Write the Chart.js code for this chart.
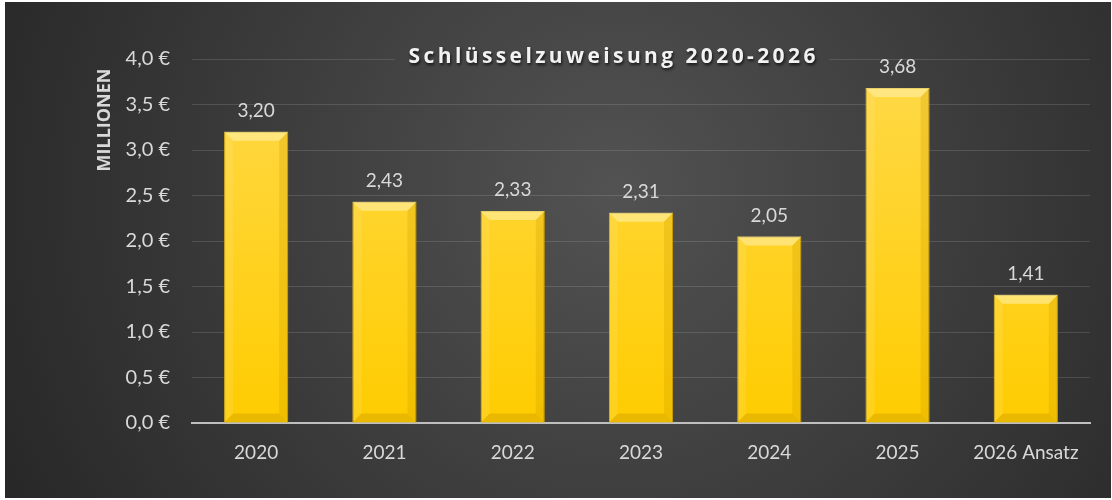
<!DOCTYPE html>
<html lang="de">
<head>
<meta charset="utf-8">
<title>Schlüsselzuweisung 2020-2026</title>
<script src="https://cdn.jsdelivr.net/npm/chart.js@4.4.0/dist/chart.umd.min.js"></script>
<style>
    html, body { margin: 0; padding: 0; background: #ffffff; }
    #wrap { position: absolute; left: 5px; top: 2px; width: 1106px; height: 496px; }
</style>
</head>
<body>
<div id="wrap"><canvas id="keyChart"></canvas></div>
<script>
// Chart data
const years = ["2020", "2021", "2022", "2023", "2024", "2025", "2026 Ansatz"];
const amounts = [3.20, 2.43, 2.33, 2.31, 2.05, 3.68, 1.41]; // Mio. €
const yTicks = [0, 0.5, 1, 1.5, 2, 2.5, 3, 3.5, 4];
const chartTitle = "Schlüsselzuweisung 2020-2026";
const unitLabel = "MILLIONEN";

// Colors
const textColor = "#d9d9d9";
const gridColor = "rgba(255, 255, 255, 0.13)";
const axisColor = "#bfbfbf";
const fontFamily = "Lato, 'Open Sans', sans-serif";
const titleFamily = "'Open Sans', Lato, sans-serif";

// Background gradient (same one is reused to mask the grid behind the title)
function backgroundGradient(ctx, w, h) {
    const g = ctx.createRadialGradient(w * 0.55, h * 0.38, 0, w * 0.55, h * 0.38, w * 0.62);
    g.addColorStop(0, "#525252");
    g.addColorStop(1, "#272727");
    return g;
}

function barGradient(context) {
    const area = context.chart.chartArea;
    if (!area) return "#ffd21f";
    const g = context.chart.ctx.createLinearGradient(0, area.top, 0, area.bottom);
    g.addColorStop(0, "#ffd94a");
    g.addColorStop(1, "#ffcc00");
    return g;
}

function fillPoly(ctx, pts, color) {
    ctx.beginPath();
    ctx.moveTo(pts[0][0], pts[0][1]);
    for (let i = 1; i < pts.length; i++) ctx.lineTo(pts[i][0], pts[i][1]);
    ctx.closePath();
    ctx.fillStyle = color;
    ctx.fill();
}

const backgroundPlugin = {
    id: "panelBackground",
    beforeDraw(chart) {
        const ctx = chart.ctx;
        ctx.save();
        ctx.fillStyle = backgroundGradient(ctx, chart.width, chart.height);
        ctx.fillRect(0, 0, chart.width, chart.height);
        ctx.restore();
    }
};

// Bevel edges and value labels on top of the bars
const barDecorPlugin = {
    id: "barDecor",
    afterDatasetsDraw(chart) {
        const ctx = chart.ctx;
        const meta = chart.getDatasetMeta(0);
        ctx.save();
        meta.data.forEach((bar, i) => {
            const l = bar.x - bar.width / 2;
            const r = bar.x + bar.width / 2;
            const t = bar.y;
            const b = bar.base;
            const d = Math.min(9, (b - t) / 2);
            fillPoly(ctx, [[l, t], [r, t], [r - d, t + d], [l + d, t + d]], "rgba(255, 240, 170, 0.6)");
            fillPoly(ctx, [[l, t], [l + d, t + d], [l + d, b - d], [l, b]], "rgba(255, 232, 140, 0.2)");
            fillPoly(ctx, [[r, t], [r, b], [r - d, b - d], [r - d, t + d]], "rgba(200, 150, 0, 0.25)");
            fillPoly(ctx, [[l, b], [l + d, b - d], [r - d, b - d], [r, b]], "rgba(190, 140, 0, 0.3)");

            ctx.fillStyle = textColor;
            ctx.font = "19px " + fontFamily;
            ctx.textAlign = "center";
            ctx.textBaseline = "middle";
            ctx.fillText(amounts[i].toFixed(2).replace(".", ","), bar.x, t - 21);
        });
        ctx.restore();
    }
};

// Letter-spaced title over the top grid line, plus the unit label
const titlePlugin = {
    id: "spacedTitle",
    afterDraw(chart) {
        const ctx = chart.ctx;
        const cx = 607;
        const cy = 55;
        ctx.save();
        ctx.font = "bold 21px " + titleFamily;
        ctx.letterSpacing = "3.4px";
        const w = ctx.measureText(chartTitle).width;
        ctx.fillStyle = backgroundGradient(ctx, chart.width, chart.height);
        ctx.fillRect(cx - w / 2 - 12, cy - 15, w + 24, 30);
        ctx.textAlign = "center";
        ctx.textBaseline = "middle";
        ctx.shadowColor = "rgba(0, 0, 0, 0.7)";
        ctx.shadowOffsetX = 1;
        ctx.shadowOffsetY = 2;
        ctx.shadowBlur = 3;
        ctx.fillStyle = "#f2f2f2";
        ctx.fillText(chartTitle, cx + 1.7, cy);
        ctx.restore();

        // "MILLIONEN" display unit label, rotated
        ctx.save();
        ctx.translate(100, 118);
        ctx.rotate(-Math.PI / 2);
        ctx.font = "bold 18px " + titleFamily;
        ctx.fillStyle = textColor;
        ctx.textAlign = "center";
        ctx.textBaseline = "middle";
        ctx.fillText(unitLabel, 0, 0);
        ctx.restore();
    }
};

const ctx = document.getElementById("keyChart").getContext("2d");
const keyChart = new Chart(ctx, {
    type: "bar",
    data: {
        labels: years,
        datasets: [{
            data: amounts,
            backgroundColor: barGradient,
            borderColor: "#c9a000",
            borderWidth: 1,
            barPercentage: 0.5,
            categoryPercentage: 1.0
        }]
    },
    options: {
        responsive: true,
        maintainAspectRatio: false,
        animation: false,
        layout: {
            padding: { top: 57, right: 21, left: 0, bottom: 0 }
        },
        plugins: {
            legend: { display: false },
            tooltip: { enabled: false }
        },
        scales: {
            x: {
                grid: { display: false, drawTicks: false },
                border: { display: true, color: axisColor, width: 2 },
                ticks: {
                    color: textColor,
                    font: { family: fontFamily, size: 19 },
                    padding: 18,
                    maxRotation: 0
                },
                afterFit(scale) { scale.height = 75; }
            },
            y: {
                min: yTicks[0],
                max: yTicks[yTicks.length - 1],
                grid: { color: gridColor, lineWidth: 1, drawTicks: false },
                border: { display: false },
                ticks: {
                    stepSize: yTicks[1] - yTicks[0],
                    color: textColor,
                    font: { family: fontFamily, size: 20 },
                    padding: 22,
                    callback: value => value.toFixed(1).replace(".", ",") + " €"
                },
                afterFit(scale) { scale.width = 187; }
            }
        }
    },
    plugins: [backgroundPlugin, barDecorPlugin, titlePlugin]
});
</script>
</body>
</html>
